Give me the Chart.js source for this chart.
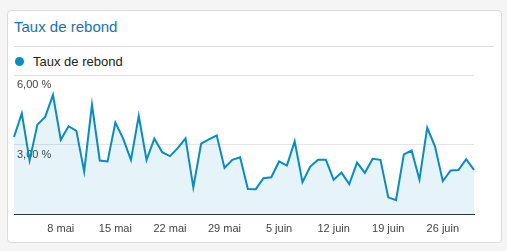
<!DOCTYPE html>
<html>
<head>
<meta charset="utf-8">
<script src="https://cdn.jsdelivr.net/npm/chart.js@4"></script>
<style>
  html, body { margin: 0; padding: 0; background: #f5f5f5; width: 507px; height: 251px; overflow: hidden; font-family: 'Liberation Sans', Arial, sans-serif; }
  .card { position: absolute; left: 7px; top: 10px; width: 493px; height: 231px; background: #fff; border: 1px solid #dcdcdc; border-radius: 4px; }
  .title { position: absolute; left: 14px; top: 18px; font-size: 15px; color: #1a6fbf; }
  .sep { position: absolute; left: 14px; top: 46px; width: 480px; height: 1px; background: #dedede; }
  .legend { position: absolute; left: 14px; top: 54px; height: 16px; font-size: 13px; color: #222; line-height: 16px; }
  .legend .dot { position: absolute; left: 1px; top: 3px; width: 9px; height: 9px; border-radius: 50%; background: #058dc7; }
  .legend span { position: absolute; left: 19px; top: 0; white-space: nowrap; }
  #wrap { position: absolute; left: 4px; top: 65px; width: 480px; height: 186px; }
</style>
</head>
<body>
<div class="card"></div>
<div class="title">Taux de rebond</div>
<div class="sep"></div>
<div class="legend"><div class="dot"></div><span>Taux de rebond</span></div>
<div id="wrap"><canvas id="c"></canvas></div>
<script>
const FONT = "'Liberation Sans', Arial, sans-serif";

const days = [
  '2 mai', '3 mai', '4 mai', '5 mai', '6 mai', '7 mai', '8 mai', '9 mai', '10 mai', '11 mai',
  '12 mai', '13 mai', '14 mai', '15 mai', '16 mai', '17 mai', '18 mai', '19 mai', '20 mai', '21 mai',
  '22 mai', '23 mai', '24 mai', '25 mai', '26 mai', '27 mai', '28 mai', '29 mai', '30 mai', '31 mai',
  '1 juin', '2 juin', '3 juin', '4 juin', '5 juin', '6 juin', '7 juin', '8 juin', '9 juin', '10 juin',
  '11 juin', '12 juin', '13 juin', '14 juin', '15 juin', '16 juin', '17 juin', '18 juin', '19 juin', '20 juin',
  '21 juin', '22 juin', '23 juin', '24 juin', '25 juin', '26 juin', '27 juin', '28 juin', '29 juin', '30 juin',
];
const shownTicks = ['8 mai', '15 mai', '22 mai', '29 mai', '5 juin', '12 juin', '19 juin', '26 juin'];

// bounce rate, %
const bounceRate = [
  3.34, 4.35, 2.33, 3.87, 4.2, 5.14, 3.22, 3.8, 3.6, 1.86,
  4.73, 2.33, 2.29, 3.96, 3.27, 2.36, 4.24, 2.36, 3.27, 2.69,
  2.52, 2.86, 3.28, 1.18, 3.05, 3.24, 3.41, 2.01, 2.36, 2.47,
  1.11, 1.1, 1.57, 1.61, 2.29, 2.11, 3.15, 1.4, 2.07, 2.36,
  2.36, 1.5, 1.81, 1.32, 2.24, 1.8, 2.4, 2.36, 0.75, 0.63,
  2.59, 2.76, 1.51, 3.74, 2.93, 1.44, 1.9, 1.92, 2.39, 1.93,
];
const yTicks = [0, 3, 6];

new Chart(document.getElementById('c'), {
  type: 'line',
  data: {
    labels: days,
    datasets: [{
      label: 'Taux de rebond',
      data: bounceRate,
      borderColor: '#058dc7',
      backgroundColor: 'rgba(5,141,199,0.1)',
      fill: 'origin',
      tension: 0,
      pointRadius: 0,
      borderWidth: 2,
    }],
  },
  options: {
    responsive: true,
    maintainAspectRatio: false,
    animation: false,
    layout: { padding: { left: 10, right: 10, top: 10, bottom: 15 } },
    plugins: { legend: { display: false }, tooltip: { enabled: false } },
    scales: {
      x: {
        offset: false,
        grid: { display: false },
        border: { display: true, color: '#333', width: 1 },
        ticks: {
          autoSkip: false,
          maxRotation: 0,
          padding: 0,
          color: '#444',
          font: { family: FONT, size: 11 },
          callback: function (v) {
            const l = this.getLabelForValue(v);
            return shownTicks.includes(l) ? l : null;
          },
        },
      },
      y: {
        min: yTicks[0],
        max: yTicks[yTicks.length - 1],
        border: { display: false },
        grid: {
          drawTicks: false,
          color: (c) => (c.tick && c.tick.value === 0 ? 'rgba(0,0,0,0)' : '#e6e6e6'),
        },
        afterBuildTicks: (s) => { s.ticks = yTicks.map((v) => ({ value: v })); },
        afterFit: (s) => { s.width = 0; },
        ticks: {
          mirror: true,
          padding: 3,
          labelOffset: 10,
          color: '#444',
          font: { family: FONT, size: 11 },
          callback: (v) => (v === 0 ? '' : v.toFixed(2).replace('.', ',') + ' %'),
        },
      },
    },
  },
});
</script>
</body>
</html>
